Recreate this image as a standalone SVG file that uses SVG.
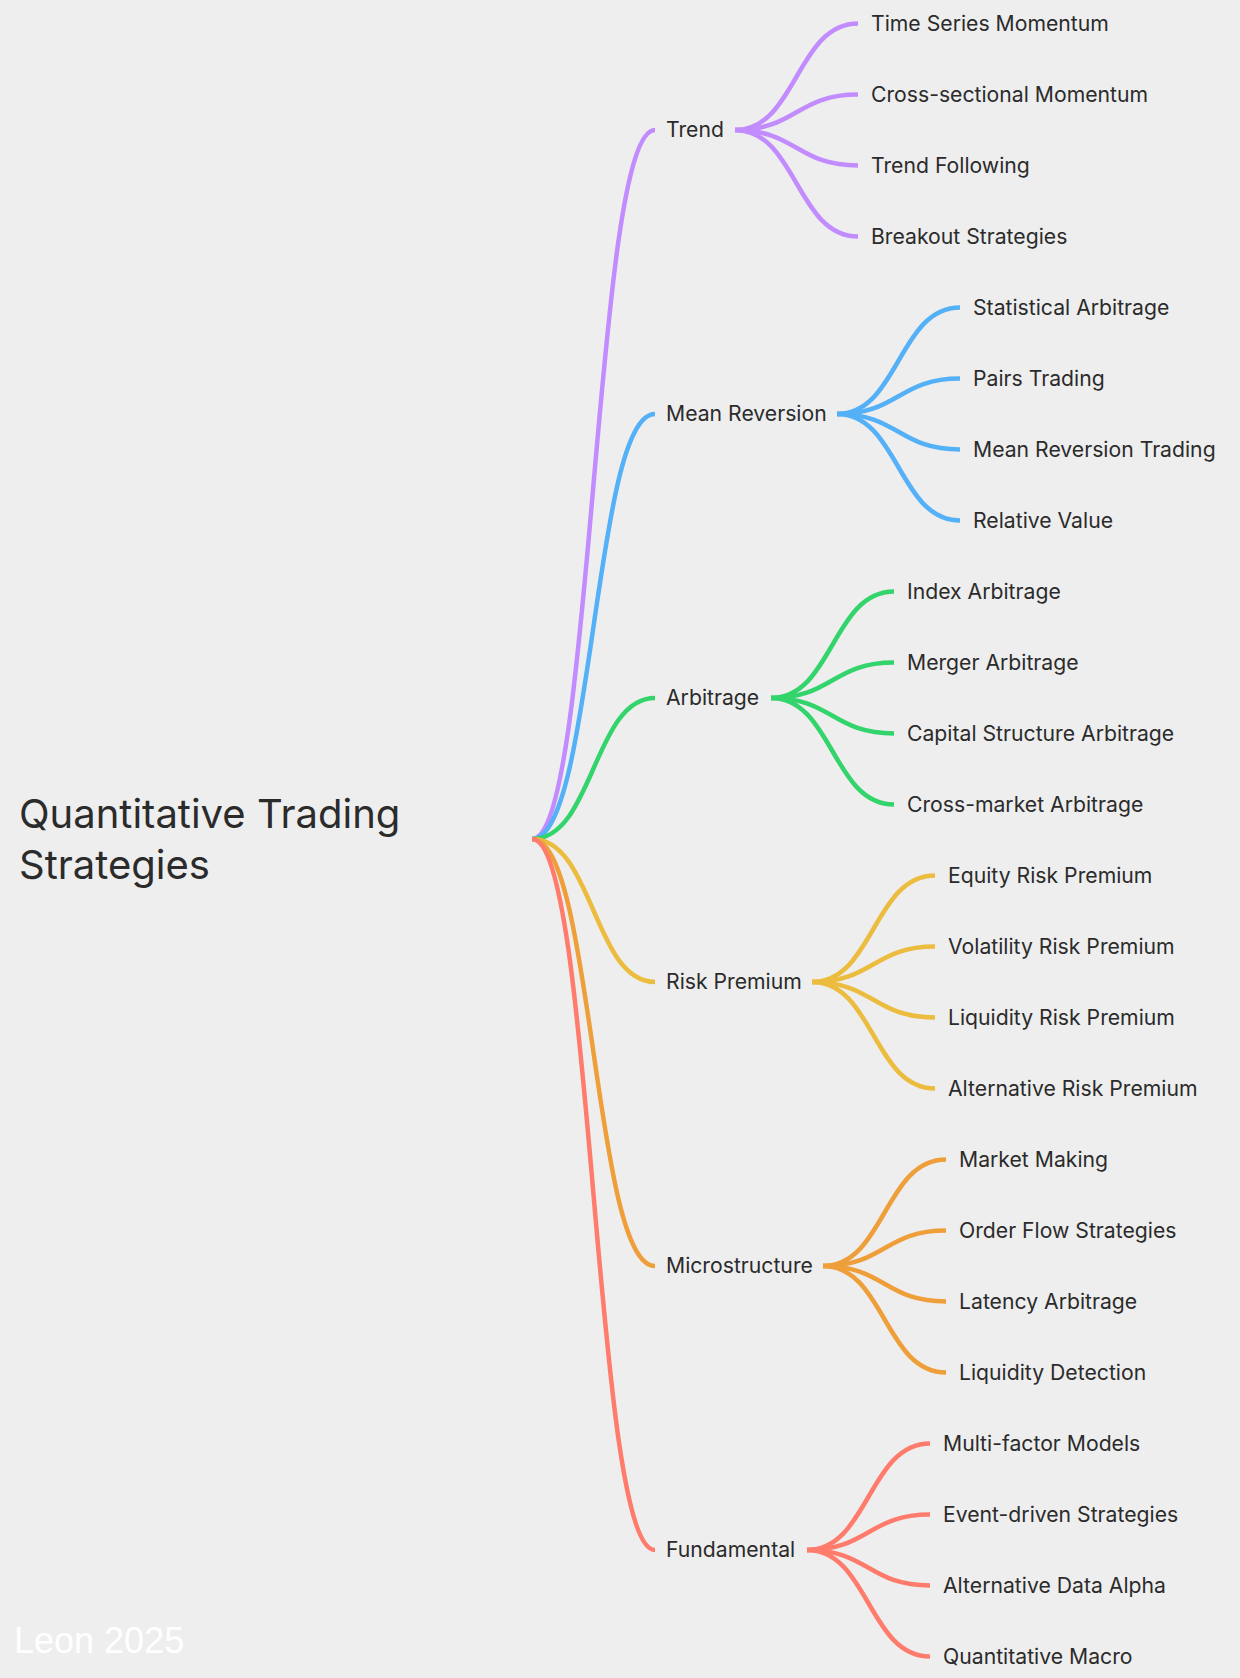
<svg xmlns="http://www.w3.org/2000/svg" width="1240" height="1678" viewBox="0 0 1240 1678">
<style>
.bg{fill:#eeeeee}
.c{fill:none;stroke-width:4.5;stroke-linecap:butt}
.t{font-family:Inter,"Noto Sans",sans-serif;font-size:21.2px;fill:#2b2b2b}
.root{font-family:Inter,"Noto Sans",sans-serif;font-size:40px;fill:#2b2b2b}
.wm{font-family:"Liberation Sans",Arial,sans-serif;font-size:36px;fill:#ffffff}
.p{stroke:#c28cff}.b{stroke:#54b0f7}.g{stroke:#33d46b}.y{stroke:#ecbc3e}.o{stroke:#ee9f3a}.r{stroke:#ff7b6c}
</style>
<rect class="bg" x="0" y="0" width="1240" height="1678"/>
<g id="connectors">
<g id="root-links">
<path class="c p" d="M532,839 C593.5,839 593.5,130 655,130"/>
<path class="c b" d="M532,839 C593.5,839 593.5,414 655,414"/>
<path class="c g" d="M532,839 C593.5,839 593.5,698 655,698"/>
<path class="c y" d="M532,839 C593.5,839 593.5,982 655,982"/>
<path class="c o" d="M532,839 C593.5,839 593.5,1266 655,1266"/>
<path class="c r" d="M532,839 C593.5,839 593.5,1550 655,1550"/>
</g>
<g id="trend-links">
<path class="c p" d="M735,130 C796.5,130 796.5,23.5 858,23.5"/>
<path class="c p" d="M735,130 C796.5,130 796.5,94.5 858,94.5"/>
<path class="c p" d="M735,130 C796.5,130 796.5,165.5 858,165.5"/>
<path class="c p" d="M735,130 C796.5,130 796.5,236.5 858,236.5"/>
</g>
<g id="mr-links">
<path class="c b" d="M837,414 C898.5,414 898.5,307.5 960,307.5"/>
<path class="c b" d="M837,414 C898.5,414 898.5,378.5 960,378.5"/>
<path class="c b" d="M837,414 C898.5,414 898.5,449.5 960,449.5"/>
<path class="c b" d="M837,414 C898.5,414 898.5,520.5 960,520.5"/>
</g>
<g id="arb-links">
<path class="c g" d="M771,698 C832.5,698 832.5,591.5 894,591.5"/>
<path class="c g" d="M771,698 C832.5,698 832.5,662.5 894,662.5"/>
<path class="c g" d="M771,698 C832.5,698 832.5,733.5 894,733.5"/>
<path class="c g" d="M771,698 C832.5,698 832.5,804.5 894,804.5"/>
</g>
<g id="rp-links">
<path class="c y" d="M812,982 C873.5,982 873.5,875.5 935,875.5"/>
<path class="c y" d="M812,982 C873.5,982 873.5,946.5 935,946.5"/>
<path class="c y" d="M812,982 C873.5,982 873.5,1017.5 935,1017.5"/>
<path class="c y" d="M812,982 C873.5,982 873.5,1088.5 935,1088.5"/>
</g>
<g id="micro-links">
<path class="c o" d="M823,1266 C884.5,1266 884.5,1159.5 946,1159.5"/>
<path class="c o" d="M823,1266 C884.5,1266 884.5,1230.5 946,1230.5"/>
<path class="c o" d="M823,1266 C884.5,1266 884.5,1301.5 946,1301.5"/>
<path class="c o" d="M823,1266 C884.5,1266 884.5,1372.5 946,1372.5"/>
</g>
<g id="fund-links">
<path class="c r" d="M807,1550 C868.5,1550 868.5,1443.5 930,1443.5"/>
<path class="c r" d="M807,1550 C868.5,1550 868.5,1514.5 930,1514.5"/>
<path class="c r" d="M807,1550 C868.5,1550 868.5,1585.5 930,1585.5"/>
<path class="c r" d="M807,1550 C868.5,1550 868.5,1656.5 930,1656.5"/>
</g>
</g>
<g id="root"><text class="root" x="19" y="828">Quantitative Trading</text><text class="root" x="19" y="879">Strategies</text></g>
<g id="trend"><text class="t" x="666" y="137">Trend</text></g>
<g id="mean-reversion"><text class="t" x="666" y="421">Mean Reversion</text></g>
<g id="arbitrage"><text class="t" x="666" y="705">Arbitrage</text></g>
<g id="risk-premium"><text class="t" x="666" y="989">Risk Premium</text></g>
<g id="microstructure"><text class="t" x="666" y="1273">Microstructure</text></g>
<g id="fundamental"><text class="t" x="666" y="1557">Fundamental</text></g>
<g id="trend-leaves">
<g id="l-tsm"><text class="t" x="871" y="30.5">Time Series Momentum</text></g>
<g id="l-csm"><text class="t" x="871" y="101.5">Cross-sectional Momentum</text></g>
<g id="l-tf"><text class="t" x="871" y="172.5">Trend Following</text></g>
<g id="l-bs"><text class="t" x="871" y="243.5">Breakout Strategies</text></g>
</g>
<g id="mr-leaves">
<g id="l-sa"><text class="t" x="973" y="314.5">Statistical Arbitrage</text></g>
<g id="l-pt"><text class="t" x="973" y="385.5">Pairs Trading</text></g>
<g id="l-mrt"><text class="t" x="973" y="456.5">Mean Reversion Trading</text></g>
<g id="l-rv"><text class="t" x="973" y="527.5">Relative Value</text></g>
</g>
<g id="arb-leaves">
<g id="l-ia"><text class="t" x="907" y="598.5">Index Arbitrage</text></g>
<g id="l-ma"><text class="t" x="907" y="669.5">Merger Arbitrage</text></g>
<g id="l-csa"><text class="t" x="907" y="740.5">Capital Structure Arbitrage</text></g>
<g id="l-cma"><text class="t" x="907" y="811.5">Cross-market Arbitrage</text></g>
</g>
<g id="rp-leaves">
<g id="l-erp"><text class="t" x="948" y="882.5">Equity Risk Premium</text></g>
<g id="l-vrp"><text class="t" x="948" y="953.5">Volatility Risk Premium</text></g>
<g id="l-lrp"><text class="t" x="948" y="1024.5">Liquidity Risk Premium</text></g>
<g id="l-arp"><text class="t" x="948" y="1095.5">Alternative Risk Premium</text></g>
</g>
<g id="micro-leaves">
<g id="l-mm"><text class="t" x="959" y="1166.5">Market Making</text></g>
<g id="l-ofs"><text class="t" x="959" y="1237.5">Order Flow Strategies</text></g>
<g id="l-la"><text class="t" x="959" y="1308.5">Latency Arbitrage</text></g>
<g id="l-ld"><text class="t" x="959" y="1379.5">Liquidity Detection</text></g>
</g>
<g id="fund-leaves">
<g id="l-mfm"><text class="t" x="943" y="1450.5">Multi-factor Models</text></g>
<g id="l-eds"><text class="t" x="943" y="1521.5">Event-driven Strategies</text></g>
<g id="l-ada"><text class="t" x="943" y="1592.5">Alternative Data Alpha</text></g>
<g id="l-qm"><text class="t" x="943" y="1663.5">Quantitative Macro</text></g>
</g>
<g id="watermark"><text class="wm" x="14" y="1653">Leon 2025</text></g>
</svg>
